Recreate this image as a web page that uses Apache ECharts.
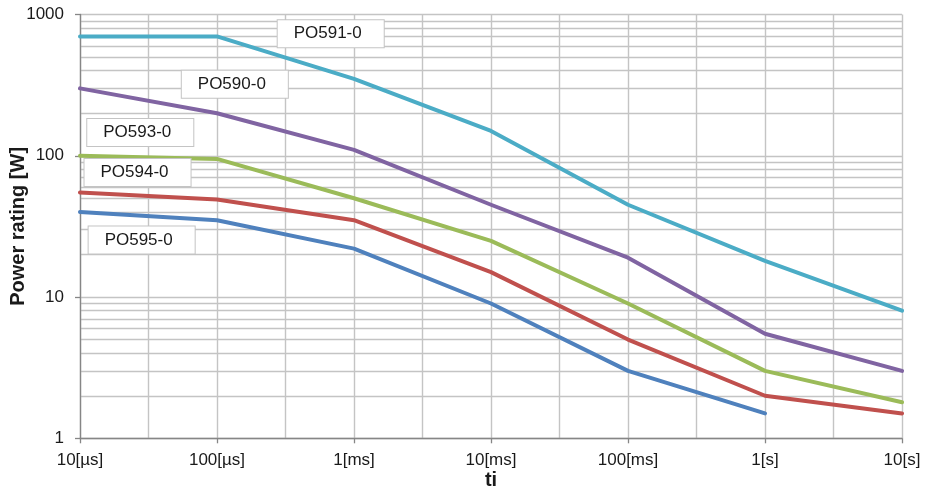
<!DOCTYPE html>
<html>
<head>
<meta charset="utf-8">
<script src="https://cdn.jsdelivr.net/npm/echarts@6/dist/echarts.min.js"></script>
<style>
html,body{margin:0;padding:0;background:#fff;}
#c{width:925px;height:491px;}
</style>
</head>
<body>
<div id="c"></div>
<script>
const tickLabels = ['10[µs]','100[µs]','1[ms]','10[ms]','100[ms]','1[s]','10[s]'];
const po591 = [700, 700, 350, 150, 45, 18, 8];
const po590 = [300, 200, 110, 45, 19, 5.5, 3];
const po593 = [100, 95, 50, 25, 9, 3, 1.8];
const po594 = [55, 49, 35, 15, 5, 2, 1.5];
const po595 = [40, 35, 22, 9, 3, 1.5];
const seriesNames = ['PO591-0','PO590-0','PO593-0','PO594-0','PO595-0'];
const seriesColors = ['#4BACC6','#8064A2','#9BBB59','#C0504D','#4F81BD'];
const labelAnchors = [[1.83, 732], [1.13, 321], [0.44, 146], [0.42, 76], [0.45, 25.3]];

const allValues = [po591, po590, po593, po594, po595];
const chart = echarts.init(document.getElementById('c'), null, {renderer:'canvas'});
const font = '"Liberation Sans", Arial, sans-serif';

const series = allValues.map((vals, k) => ({
  name: seriesNames[k],
  type: 'line',
  data: vals.map((v, i) => [i, v]),
  showSymbol: false,
  symbol: 'none',
  z: 3,
  lineStyle: {color: seriesColors[k], width: 4, cap: 'round', join: 'round'},
  itemStyle: {color: seriesColors[k]},
  markPoint: {
    symbol: 'rect',
    symbolSize: 1,
    itemStyle: {color: 'rgba(0,0,0,0)'},
    z: 10,
    silent: true,
    data: [{coord: labelAnchors[k], value: seriesNames[k]}],
    label: {
      show: true,
      position: 'inside',
      formatter: seriesNames[k],
      fontFamily: font,
      fontSize: 17,
      color: '#1a1a1a',
      backgroundColor: '#ffffff',
      borderColor: '#c4c4c4',
      borderWidth: 1,
      padding: [6, 22, 4, 16]
    }
  }
}));

chart.setOption({
  animation: false,
  backgroundColor: '#ffffff',
  grid: {left: 80, right: 23, top: 14.5, bottom: 52.7, containLabel: false, outerBoundsMode: 'none'},
  xAxis: {
    type: 'value',
    min: 0, max: tickLabels.length - 1, interval: 1,
    name: 'ti',
    nameLocation: 'middle',
    nameGap: 32,
    nameMoveOverlap: false,
    nameTextStyle: {fontFamily: font, fontSize: 20, fontWeight: 'bold', color: '#1a1a1a'},
    axisLine: {show: true, lineStyle: {color: '#868686', width: 1.3}},
    axisTick: {show: true, length: 5, lineStyle: {color: '#868686', width: 1.3}},
    axisLabel: {fontFamily: font, fontSize: 17, color: '#1a1a1a', margin: 14,
      formatter: v => tickLabels[Math.round(v)] || ''},
    splitLine: {show: true, lineStyle: {color: '#c4c4c4', width: 1.4}},
    minorTick: {show: false, splitNumber: 2},
    minorSplitLine: {show: true, lineStyle: {color: '#c4c4c4', width: 1.4}}
  },
  yAxis: {
    type: 'log',
    logBase: 10,
    min: 1, max: 1000,
    name: 'Power rating [W]',
    nameLocation: 'middle',
    nameGap: 52,
    nameMoveOverlap: false,
    nameTextStyle: {fontFamily: font, fontSize: 20, fontWeight: 'bold', color: '#1a1a1a'},
    axisLine: {show: true, lineStyle: {color: '#868686', width: 1.3}},
    axisTick: {show: true, length: 5, lineStyle: {color: '#868686', width: 1.3}},
    axisLabel: {fontFamily: font, fontSize: 17, color: '#1a1a1a', margin: 16,
      formatter: v => String(v)},
    splitLine: {show: true, lineStyle: {color: '#c4c4c4', width: 1.4}},
    minorTick: {show: false, splitNumber: 9},
    minorSplitLine: {show: true, lineStyle: {color: '#c4c4c4', width: 1.4}}
  },
  series: series
});
</script>
</body>
</html>
